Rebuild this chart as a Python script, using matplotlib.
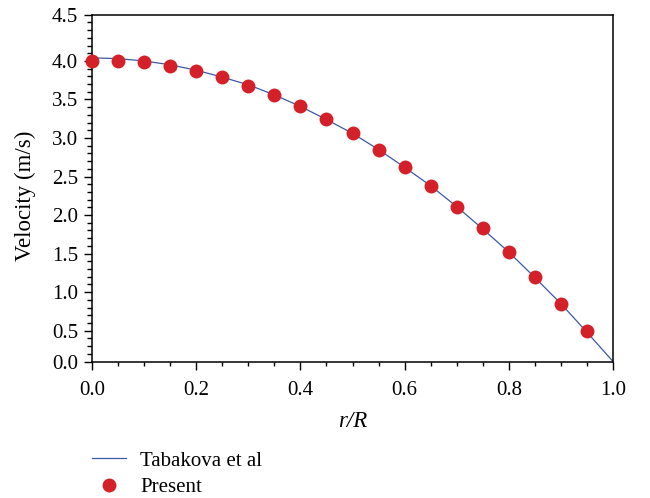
import matplotlib
matplotlib.use('Agg')
from matplotlib import pyplot as plt
from matplotlib.ticker import MultipleLocator, FixedLocator, FixedFormatter

# reference curve (Tabakova et al)
r_line = [0.0, 0.05, 0.1, 0.15, 0.2, 0.25, 0.3, 0.35, 0.4, 0.45, 0.5,
          0.55, 0.6, 0.65, 0.7, 0.75, 0.8, 0.85, 0.9, 0.95, 1.0]
v_line = [3.94, 3.93, 3.90, 3.85, 3.78, 3.69, 3.59, 3.46, 3.31, 3.14, 2.96,
          2.75, 2.52, 2.28, 2.01, 1.72, 1.42, 1.09, 0.75, 0.38, 0.0]

# present results
r_pts = [0.0, 0.05, 0.1, 0.15, 0.2, 0.25, 0.3, 0.35, 0.4, 0.45, 0.5,
         0.55, 0.6, 0.65, 0.7, 0.75, 0.8, 0.85, 0.9, 0.95]
v_pts = [3.90, 3.90, 3.88, 3.83, 3.77, 3.69, 3.58, 3.46, 3.32, 3.15, 2.97,
         2.75, 2.53, 2.28, 2.01, 1.73, 1.42, 1.09, 0.75, 0.39]

# the source axis places its labelled ticks slightly off the even grid
ytick_pos = [0.0, 0.4, 0.9, 1.4, 1.9, 2.4, 2.9, 3.4, 3.9, 4.5]
ytick_lbl = ['0.0', '0.5', '1.0', '1.5', '2.0', '2.5', '3.0', '3.5', '4.0', '4.5']

plt.rcParams['font.family'] = ['Liberation Serif', 'DejaVu Serif']
plt.rcParams['font.size'] = 15

fig = plt.figure(figsize=(6.5, 4.98), dpi=100)
ax = fig.add_axes([92/650, 1-361.5/498, (613-92)/650, (361.5-14.7)/498])

ax.plot(r_line, v_line, color='#3b59a8', lw=0.9, label='Tabakova et al', zorder=2)
ax.plot(r_pts, v_pts, 'o', color='#d42028', ms=10, mec='none', label='Present',
        clip_on=False, zorder=3)

ax.set_xlim(0, 1.0)
ax.set_ylim(0, 4.5)
ax.xaxis.set_major_locator(MultipleLocator(0.2))
ax.xaxis.set_minor_locator(MultipleLocator(0.05))
ax.yaxis.set_major_locator(FixedLocator(ytick_pos))
ax.yaxis.set_major_formatter(FixedFormatter(ytick_lbl))
ax.yaxis.set_minor_locator(MultipleLocator(0.1))
ax.set_xticklabels([f'{v:.1f}' for v in ax.get_xticks()])

ax.tick_params(axis='y', which='major', direction='out', length=6, width=1, pad=4)
ax.tick_params(axis='y', which='minor', direction='out', length=3.6, width=1)
ax.tick_params(axis='x', which='major', direction='out', length=5.5, width=1, pad=8.5)
ax.tick_params(axis='x', which='minor', direction='out', length=3.2, width=1)
for s in ax.spines.values():
    s.set_linewidth(1.1)

ax.set_xlabel('r/R', style='italic', fontsize=16.5, labelpad=8)
ax.set_ylabel('Velocity (m/s)', fontsize=16.5)
ax.yaxis.set_label_coords(-0.107, 0.479)

fig.legend(loc='upper left', bbox_to_anchor=(92/650, 1-451/498), frameon=False,
           borderpad=0, borderaxespad=0, handlelength=1.65, handletextpad=0.65,
           labelspacing=0.35, numpoints=1)

fig.savefig('out.png', dpi=100)
